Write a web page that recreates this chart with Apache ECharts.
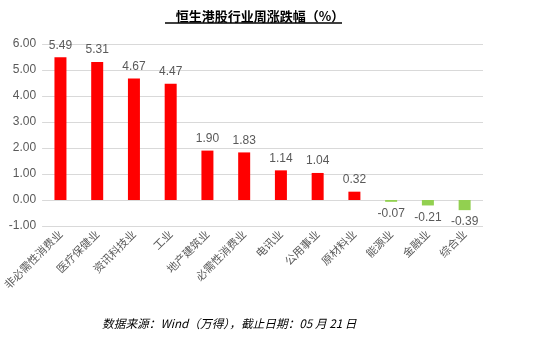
<!DOCTYPE html>
<html>
<head>
<meta charset="utf-8">
<script src="https://cdn.jsdelivr.net/npm/echarts@6/dist/echarts.min.js"></script>
<style>
html,body{margin:0;padding:0;background:#fff;}
#chart{width:551px;height:347px;}
</style>
</head>
<body>
<div id="chart"></div>
<script>
// Weekly change by Hang Seng industry (%)
const categories = ['非必需性消费业','医疗保健业','资讯科技业','工业','地产建筑业','必需性消费业','电讯业','公用事业','原材料业','能源业','金融业','综合业'];
const changes = [5.49, 5.31, 4.67, 4.47, 1.90, 1.83, 1.14, 1.04, 0.32, -0.07, -0.21, -0.39];
const yTicks = [-1, 0, 1, 2, 3, 4, 5, 6];

const UP = '#FF0000';
const DOWN = '#92D050';
const GRAY = '#595959';
const NUM_FONT = '"Liberation Sans Narrow", "Arial Narrow", "Liberation Sans", Arial, sans-serif';
const CJK = '"Noto Sans CJK SC", sans-serif';

const chart = echarts.init(document.getElementById('chart'));
chart.setOption({
  animation: false,
  backgroundColor: '#fff',
  title: {
    text: '恒生港股行业周涨跌幅（%）',
    left: 255, top: 5, textAlign: 'center',
    textStyle: { fontFamily: CJK, fontSize: 13, fontWeight: 'bold', color: '#000' }
  },
  graphic: [
    { type: 'line', shape: { x1: 165, y1: 23, x2: 342, y2: 23 }, style: { stroke: '#000', lineWidth: 1.5 } },
    { type: 'text', left: 102, top: 318,
      style: { text: '数据来源：Wind（万得），截止日期：05 月 21 日', font: 'italic 11.7px "Noto Sans CJK SC", sans-serif', fill: '#000' } }
  ],
  grid: { left: 42, right: 68, top: 44, bottom: 121 },
  xAxis: {
    type: 'category',
    data: categories,
    axisLine: { show: false },
    axisTick: { show: false },
    axisLabel: { rotate: 45, interval: 0, color: GRAY, fontSize: 11, fontFamily: CJK, margin: 6 }
  },
  yAxis: {
    type: 'value',
    min: yTicks[0], max: yTicks[yTicks.length - 1], interval: 1,
    axisLine: { show: false },
    axisTick: { show: false },
    splitLine: { lineStyle: { color: '#D9D9D9', width: 1 } },
    axisLabel: { color: GRAY, fontSize: 12, fontFamily: NUM_FONT, margin: 6,
      formatter: v => v.toFixed(2) }
  },
  series: [{
    type: 'bar',
    barWidth: 12,
    data: changes.map(v => ({
      value: v,
      itemStyle: { color: v >= 0 ? UP : DOWN },
      label: { position: v >= 0 ? 'top' : 'bottom' }
    })),
    label: {
      show: true, color: GRAY, fontSize: 12, fontFamily: NUM_FONT, distance: 6,
      formatter: p => p.value.toFixed(2)
    }
  }]
});
</script>
</body>
</html>
